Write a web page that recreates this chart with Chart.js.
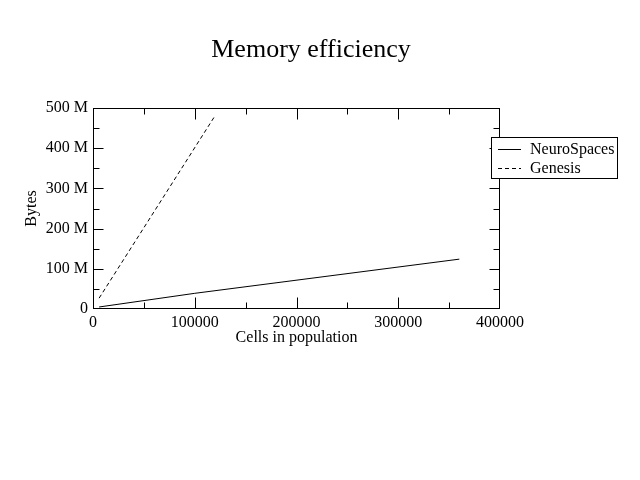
<!DOCTYPE html>
<html>
<head>
<meta charset="utf-8">
<script src="https://cdn.jsdelivr.net/npm/chart.js@4"></script>
<style>
  html, body { margin: 0; padding: 0; background: #fff; }
</style>
</head>
<body>
<canvas id="myChart" width="640" height="480"></canvas>
<script>
const chartTitle = 'Memory efficiency';
const seriesNames = ['NeuroSpaces', 'Genesis'];
const neuroCells = [6000, 100000, 360000];
const neuroBytes = [5e6, 39e6, 124e6];
const genesisCells = [6000, 60000, 120000];
const genesisBytes = [27e6, 242e6, 481e6];
const xTicks = [0, 100000, 200000, 300000, 400000];
const yTicks = [0, 100e6, 200e6, 300e6, 400e6, 500e6];

const serif = "'Liberation Serif', 'DejaVu Serif', serif";

function toPoints(xs, ys) {
  return xs.map(function(x, i) { return { x: x, y: ys[i] }; });
}

// frame, inward ticks on all four sides, title and boxed legend
const decor = {
  id: 'decor',
  afterDraw: function(chart) {
    const c = chart.ctx;
    const a = chart.chartArea;
    const xs = chart.scales.x;
    const ys = chart.scales.y;
    const L = Math.round(a.left) + 0.5, R = Math.round(a.right) - 0.5;
    const T = Math.round(a.top) + 0.5, B = Math.round(a.bottom) - 0.5;
    const clamp = function(v, lo, hi) { return Math.min(hi, Math.max(lo, v)); };
    c.save();
    c.strokeStyle = '#000';
    c.lineWidth = 1;
    c.strokeRect(L, T, R - L, B - T);

    c.beginPath();
    for (let v = 0; v <= 400000; v += 50000) {
      const len = v % 100000 === 0 ? 11 : 6;
      const px = clamp(Math.round(xs.getPixelForValue(v)) + 0.5, L, R);
      c.moveTo(px, B); c.lineTo(px, B - len);
      c.moveTo(px, T); c.lineTo(px, T + len);
    }
    for (let v = 0; v <= 500e6; v += 50e6) {
      const len = v % 100e6 === 0 ? 10 : 6;
      const py = clamp(Math.round(ys.getPixelForValue(v)) + 0.5, T, B);
      c.moveTo(L, py); c.lineTo(L + len, py);
      c.moveTo(R, py); c.lineTo(R - len, py);
    }
    c.stroke();

    c.fillStyle = '#000';
    c.font = '26px ' + serif;
    c.textAlign = 'center';
    c.textBaseline = 'middle';
    c.fillText(chartTitle, 311, 50);

    // legend
    c.fillStyle = '#fff';
    c.fillRect(491, 137, 127, 42);
    c.strokeRect(491.5, 137.5, 126, 41);
    c.font = '16px ' + serif;
    c.textAlign = 'left';
    chart.data.datasets.forEach(function(ds, i) {
      const y = 149.5 + i * 19;
      c.setLineDash(ds.borderDash || []);
      c.beginPath();
      c.moveTo(498, y); c.lineTo(521, y);
      c.stroke();
      c.setLineDash([]);
      c.fillStyle = '#000';
      c.fillText(ds.label, 530, y);
    });
    c.restore();
  }
};

const ctx = document.getElementById('myChart').getContext('2d');
const chart = new Chart(ctx, {
  type: 'scatter',
  data: {
    datasets: [{
      label: seriesNames[0],
      data: toPoints(neuroCells, neuroBytes),
      showLine: true,
      borderColor: '#000',
      borderWidth: 1,
      pointRadius: 0,
      tension: 0
    },
    {
      label: seriesNames[1],
      data: toPoints(genesisCells, genesisBytes),
      showLine: true,
      borderColor: '#000',
      borderWidth: 1,
      borderDash: [4, 3],
      pointRadius: 0,
      tension: 0
    }]
  },
  options: {
    responsive: false,
    animation: false,
    layout: { padding: { left: 0, top: 108, right: 140, bottom: 131 } },
    plugins: {
      legend: { display: false },
      title: { display: false },
      tooltip: { enabled: false }
    },
    scales: {
      x: {
        type: 'linear',
        min: 0,
        max: 400000,
        afterFit: function(s) { s.height = 40; },
        afterBuildTicks: function(s) { s.ticks = xTicks.map(function(v) { return { value: v }; }); },
        grid: { display: false, drawTicks: false },
        border: { display: false },
        ticks: {
          color: '#000',
          padding: 4,
          maxRotation: 0,
          font: { family: serif, size: 16 },
          callback: function(v) { return String(v); }
        },
        title: {
          display: true,
          text: 'Cells in population',
          color: '#000',
          font: { family: serif, size: 16 },
          padding: { top: 0, bottom: 2 }
        }
      },
      y: {
        type: 'linear',
        min: 0,
        max: 500e6,
        afterFit: function(s) { s.width = 93; },
        afterBuildTicks: function(s) { s.ticks = yTicks.map(function(v) { return { value: v }; }); },
        grid: { display: false, drawTicks: false },
        border: { display: false },
        ticks: {
          color: '#000',
          padding: 5,
          font: { family: serif, size: 16 },
          callback: function(v) { return v === 0 ? '0' : (v / 1e6) + ' M'; }
        },
        title: {
          display: true,
          text: 'Bytes',
          color: '#000',
          font: { family: serif, size: 16 },
          padding: { top: 22, bottom: 0 }
        }
      }
    }
  },
  plugins: [decor]
});
</script>
</body>
</html>
